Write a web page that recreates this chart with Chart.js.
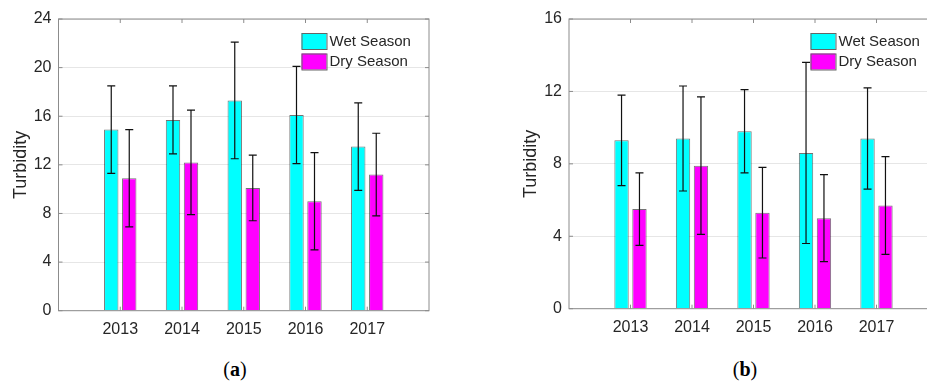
<!DOCTYPE html>
<html>
<head>
<meta charset="utf-8">
<script src="https://cdn.jsdelivr.net/npm/chart.js@4.4.0/dist/chart.umd.min.js"></script>
<style>
  html, body { margin: 0; padding: 0; background: #fff; overflow: hidden; width: 927px; height: 383px; }
  canvas { position: absolute; top: 0; }
  .cap { position: absolute; top: 357px; width: 60px; text-align: center; line-height: 24px;
         font-family: 'Liberation Serif', 'Times New Roman', serif; font-size: 20px; color: #000; }
</style>
</head>
<body>
<canvas id="chartA" width="470" height="345" style="left:0"></canvas>
<canvas id="chartB" width="480" height="345" style="left:470px"></canvas>
<div class="cap" style="left:205px">(<b>a</b>)</div>
<div class="cap" style="left:715px">(<b>b</b>)</div>
<script>
const categories = ['2013', '2014', '2015', '2016', '2017'];
const seriesNames = ['Wet Season', 'Dry Season'];

// (a)
const wetA = [14.9, 15.7, 17.3, 16.1, 13.5];
const wetErrA = [3.6, 2.8, 4.8, 4.0, 3.6];
const dryA = [10.9, 12.2, 10.1, 9.0, 11.2];
const dryErrA = [4.0, 4.3, 2.7, 4.0, 3.4];
const yTicksA = [0, 4, 8, 12, 16, 20, 24];

// (b)
const wetB = [9.3, 9.4, 9.8, 8.6, 9.4];
const wetErrB = [2.5, 2.9, 2.3, 5.0, 2.8];
const dryB = [5.5, 7.9, 5.3, 5.0, 5.7];
const dryErrB = [2.0, 3.8, 2.5, 2.4, 2.7];
const yTicksB = [0, 4, 8, 12, 16];

const textColor = '#262626';
const fontFamily = "'Liberation Sans', Arial, Helvetica, sans-serif";
const boxColor = '#8c8c8c';

// empty slots at both ends so the years sit at 1..5 on a 0..6 axis
const pad = arr => [null, ...arr, null];

const errorBars = {
    id: 'errorBars',
    afterDatasetsDraw(chart) {
        const ctx = chart.ctx;
        const y = chart.scales.y;
        ctx.save();
        ctx.strokeStyle = '#111';
        ctx.lineWidth = 1.2;
        chart.data.datasets.forEach((ds, di) => {
            const meta = chart.getDatasetMeta(di);
            meta.data.forEach((bar, i) => {
                const v = ds.data[i];
                if (v == null) return;
                const e = ds.errors[i];
                const top = y.getPixelForValue(v + e);
                const bot = y.getPixelForValue(v - e);
                ctx.beginPath();
                ctx.moveTo(bar.x, top);
                ctx.lineTo(bar.x, bot);
                ctx.moveTo(bar.x - 4, top);
                ctx.lineTo(bar.x + 4, top);
                ctx.moveTo(bar.x - 4, bot);
                ctx.lineTo(bar.x + 4, bot);
                ctx.stroke();
            });
        });
        ctx.restore();
    }
};

const axesBox = {
    id: 'axesBox',
    afterDraw(chart) {
        const ctx = chart.ctx;
        const a = chart.chartArea;
        const x = chart.scales.x;
        const y = chart.scales.y;
        ctx.save();
        ctx.strokeStyle = boxColor;
        ctx.lineWidth = 1;
        ctx.strokeRect(a.left, a.top, a.right - a.left, a.bottom - a.top);
        ctx.beginPath();
        y.ticks.forEach(t => {
            const py = y.getPixelForValue(t.value);
            ctx.moveTo(a.left, py); ctx.lineTo(a.left + 4, py);
            ctx.moveTo(a.right, py); ctx.lineTo(a.right - 4, py);
        });
        categories.forEach((c, i) => {
            const px = x.getPixelForValue(i + 1);
            ctx.moveTo(px, a.top); ctx.lineTo(px, a.top + 4);
            ctx.moveTo(px, a.bottom); ctx.lineTo(px, a.bottom - 4);
        });
        ctx.stroke();

        // legend inside the top-right corner
        ctx.font = '15px ' + fontFamily;
        ctx.textBaseline = 'middle';
        ctx.textAlign = 'left';
        chart.data.datasets.forEach((ds, i) => {
            const sx = a.right - 127.5;
            const sy = a.top + 14 + i * 20.5;
            ctx.fillStyle = ds.backgroundColor;
            ctx.fillRect(sx, sy, 25, 16);
            ctx.strokeStyle = '#666';
            ctx.strokeRect(sx + 0.5, sy + 0.5, 25, 16);
            ctx.fillStyle = textColor;
            ctx.fillText(ds.label, sx + 28, sy + 8.5);
        });
        ctx.restore();
    }
};

function makeChart(id, wet, wetErr, dry, dryErr, yTicks, area) {
    return new Chart(document.getElementById(id), {
        type: 'bar',
        data: {
            labels: ['', ...categories, ''],
            datasets: [
                { label: seriesNames[0], data: pad(wet), errors: pad(wetErr),
                  backgroundColor: '#00ffff', borderColor: 'rgba(0,0,0,0.55)', borderWidth: 1 },
                { label: seriesNames[1], data: pad(dry), errors: pad(dryErr),
                  backgroundColor: '#ff00ff', borderColor: 'rgba(0,0,0,0.55)', borderWidth: 1 }
            ]
        },
        options: {
            responsive: false,
            animation: false,
            categoryPercentage: 0.583,
            barPercentage: 0.8,
            layout: { padding: { left: area.padLeft, top: 19, right: area.padRight, bottom: 0 } },
            plugins: { legend: { display: false }, tooltip: { enabled: false } },
            scales: {
                x: {
                    offset: false,
                    grid: { display: false, drawTicks: false, tickLength: 0 },
                    border: { display: false },
                    ticks: { autoSkip: false, maxRotation: 0, padding: 9, color: textColor,
                             font: { family: fontFamily, size: 16 } },
                    afterFit: s => { s.height = area.xHeight; }
                },
                y: {
                    min: yTicks[0],
                    max: yTicks[yTicks.length - 1],
                    grid: { color: '#e6e6e6', drawTicks: false, tickLength: 0 },
                    border: { display: false },
                    ticks: { stepSize: yTicks[1] - yTicks[0], padding: 7, color: textColor,
                             font: { family: fontFamily, size: 16 } },
                    title: { display: true, text: 'Turbidity', color: textColor,
                             padding: { top: 10, bottom: 0 },
                             font: { family: fontFamily, size: 18 } },
                    afterFit: s => { s.width = area.yWidth; }
                }
            }
        },
        plugins: [errorBars, axesBox]
    });
}

makeChart('chartA', wetA, wetErrA, dryA, dryErrA, yTicksA,
    { padLeft: 0, padRight: 41, yWidth: 58.5, xHeight: 34.3 });
makeChart('chartB', wetB, wetErrB, dryB, dryErrB, yTicksB,
    { padLeft: 40, padRight: 12, yWidth: 59, xHeight: 36.3 });
</script>
</body>
</html>
